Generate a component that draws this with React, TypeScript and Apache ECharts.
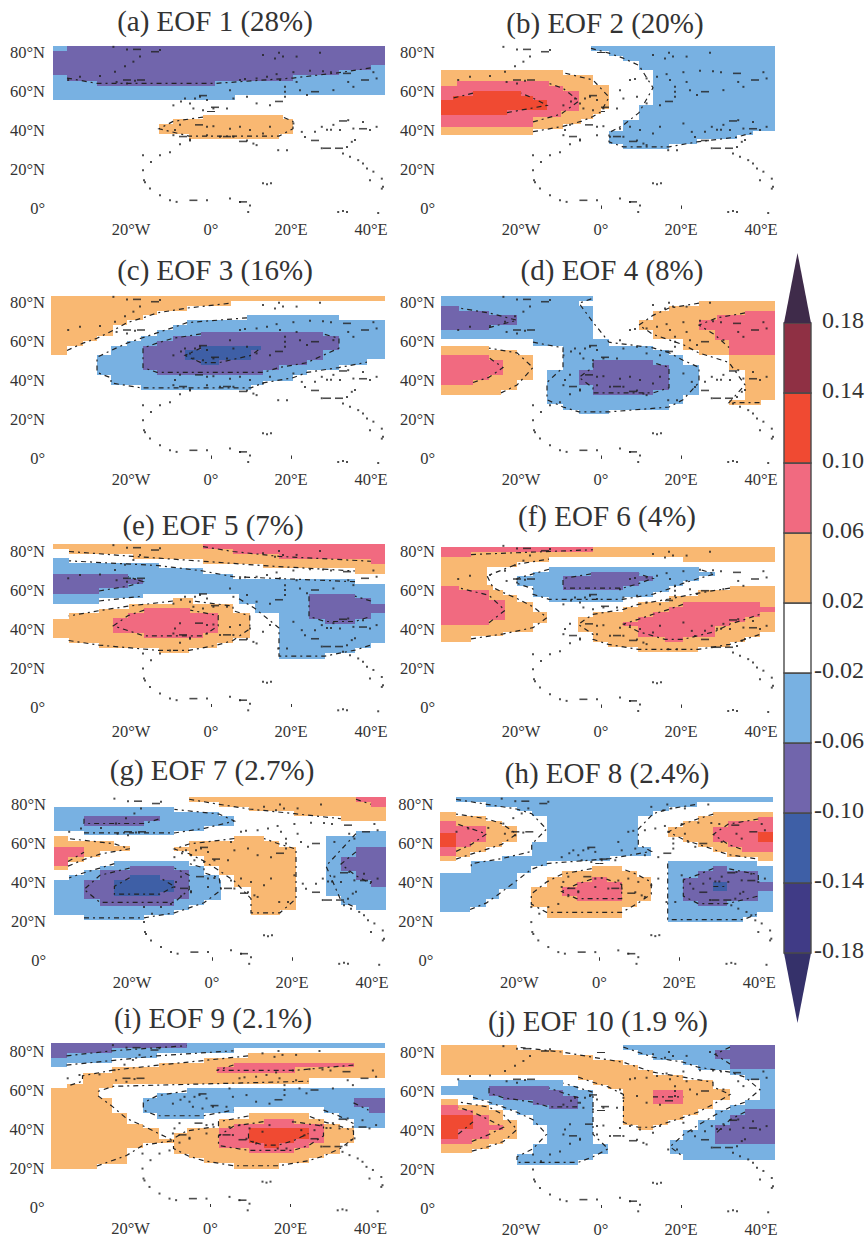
import React, { useEffect, useRef } from "react";
import * as echarts from "echarts";

type Row = number[];
type Region = [number, Row[]];

const O = 1, P = 2, R = 3, B = -1, U = -2, D = -3;
const LEVEL_COLORS: Record<string, string> = {
  "1": "#F9B872", "2": "#F16A80", "3": "#F04A32",
  "-1": "#78B1E2", "-2": "#7165AC", "-3": "#3E5FA6",
};

const TITLES = ["(a) EOF 1 (28%)", "(b) EOF 2 (20%)", "(c) EOF 3 (16%)", "(d) EOF 4 (8%)", "(e) EOF 5 (7%)", "(f) EOF 6 (4%)", "(g) EOF 7 (2.7%)", "(h) EOF 8 (2.4%)", "(i) EOF 9 (2.1%)", "(j) EOF 10 (1.9 %)"];
const LON_LABELS = [-20, 0, 20, 40];
const LAT_LABELS = [0, 20, 40, 60, 80];
const LON_TICKS = [0, 20];
const LAT_TICKS = [50, 80];

const EOF1: Region[] = [
  [B, [[83.5, -39.5, 43.5], [58.5, -39.5, 6], [56]]],
  [U, [[83.5, -36, 43.5], [81, -39.5, 43.5], [73.5, -39.5, 40], [71, -39.5, 32], [68.5, -36, 20.5], [65.5, -28.5, 1], [63]]],
  [O, [[48, -2, 18], [46, -9.5, 20.5], [43.5, -13, 20.5], [38.5, -5.5, 17], [36]]],
];
const EOF2: Region[] = [
  [O, [[71, -40, -9.5], [68.5, -40, -2], [63.5, -40, 2], [51, -40, 0], [48.5, -40, -2], [46, -40, -5], [43.5, -40, -9.5], [41, -40, -17], [38]]],
  [P, [[65.5, -36, -13], [63, -40, -9.5], [60.5, -40, -5.5], [50, -40, -10], [47, -40, -17], [42]]],
  [R, [[60.5, -32, -20], [58, -37, -17], [55.5, -40, -13.5], [50.5, -40, -23.5], [48]]],
  [B, [[83.5, -2.5, 43.5], [81, 2, 43.5], [78.5, 5.5, 43.5], [76, 9.5, 43.5], [71, 13, 43.5], [53, 9.5, 43.5], [45.5, 5.5, 43.5], [40, 2, 38], [38, 2, 34], [35.5, 2, 24], [33, 5.5, 17], [30.5]]],
];
const EOF3: Region[] = [
  [O, [[83.5, -40, 43.5], [81, -40, 5], [78.5, -40, -6], [76, -40, -13.5], [73.5, -40, -17], [71, -40, -21], [68.5, -40, -24.5], [63, -40, -28.5], [60.5, -40, -32], [58, -40, -36], [53]]],
  [B, [[73.5, 9, 32], [71, -6, 43.5], [68.5, -9.5, 43.5], [66, -13.5, 43.5], [63, -17.5, 43.5], [60.5, -21, 43.5], [58, -25, 43.5], [53, -28.5, 43.5], [51, -28.5, 39], [48, -28.5, 32], [45.5, -28.5, 24], [43, -25, 20.5], [40, -25, 13], [37.7, -17.5, 10], [35]]],
  [U, [[65, -2.5, 28], [63, -9.5, 32], [60.5, -13.5, 32], [58, -17, 32], [55.5, -17, 28], [50.5, -17, 24], [48, -17, 17], [45.5, -13.5, 13], [43]]],
  [D, [[58, -2.5, 12.5], [55.5, -6.5, 10], [50.5, -2.5, 2], [48]]],
];
const EOF4: Region[] = [
  [B, [[83.5, -40, -2], [81, -40, -5.5], [78.5, -40, -2], [61.5, -17, 2], [58, -9.5, 13], [55.7, -9.5, 17], [53, -9.5, 20.5], [48, -9.5, 24.5], [45.7, -13.5, 24.5], [32.5, -13.5, 20.5], [28, -9.5, 17], [25, -5.5, 2], [23]]],
  [U, [[78.5, -40, -35.5], [76, -40, -28], [73.5, -40, -21], [68.5, -40, -28], [66]]],
  [U, [[50.5, -2, 13], [48, -2, 17], [45.7, -5.5, 17], [37.7, -2, 17], [35, -2, 13], [32.5]]],
  [O, [[58, -40, -28], [55.5, -40, -21], [53, -40, -17], [40.5, -40, -21], [35, -40, -25], [32.5]]],
  [P, [[53, -40, -28], [50.5, -40, -24.5], [43, -40, -28], [40.5, -40, -32], [37.7]]],
  [O, [[81, 24.5, 43.5], [78.5, 17, 43.5], [76, 13, 43.5], [71, 9.5, 43.5], [66, 13, 43.5], [61.5, 20.5, 43.5], [55.5, 24.5, 43.5], [53, 32, 43.5], [45.7, 36, 43.5], [30, 32, 40], [27.5]]],
  [P, [[76, 36, 43.5], [73.5, 29, 43.5], [71, 24.5, 43.5], [66, 28.5, 43.5], [61, 32, 43.5], [53]]],
];
const EOF5: Region[] = [
  [O, [[83.5, -39.6, 43.5], [81, -35.5, 43.5], [78.5, -19.5, 43.5], [76, -2, 43.5], [73.5, 13, 43.5], [71.5, 36, 43.5], [68]]],
  [P, [[83.5, -2, 43.5], [81, 5.5, 43.5], [78.5, 17, 43.5], [76, 40, 43.5], [73.5]]],
  [B, [[76.2, -39.6, -35.5], [73.7, -39.6, -13], [71.3, -39.6, -2], [68.2, -39.6, 5.5], [65.5, -39.6, 36], [63, -39.6, 43.5], [58, -39.6, -17], [55.7, -39.6, -28], [53]]],
  [B, [[58, 7, 43.5], [53, 11, 43.5], [48, 17, 43.5], [33, 17, 40], [30.5, 17, 36], [27.8, 17, 28.5], [24.4]]],
  [U, [[68.2, -39.6, -20.7], [65.5, -39.6, -17], [63, -39.6, -20.7], [61, -39.6, -28], [58]]],
  [U, [[58, 24.5, 36], [55.7, 24.5, 40], [53, 24.5, 43.5], [48, 24.5, 40], [45, 28.5, 36], [42.7]]],
  [O, [[55.7, -9.5, -4.5], [53, -20.5, 5.5], [50.5, -28, 5.5], [48.3, -35.6, 9.7], [45, -39.6, 9.7], [35.2, -35.6, 5.5], [33, -28, 1.5], [30.5, -13, -5.5], [27.5]]],
  [P, [[51, -16.7, -5.2], [48.3, -20.7, 1.8], [45.5, -24.4, 1.8], [37.7, -16.7, -2], [35.2]]],
];
const EOF6: Region[] = [
  [O, [[82.2, -40, 43.5], [77.5, 20.5, 43.5], [74.9]]],
  [O, [[77.5, -40, -13], [74.9, -40, -21], [72.3, -40, -28.5], [62.9, -40, -27], [60.3, -40, -24.4], [57.7, -40, -21], [54.3, -40, -17], [49.2, -40, -13.5], [43.2, -40, -17], [38.9, -40, -24.4], [36.8, -40, -32.5], [33.8]]],
  [P, [[82.2, -40, -2], [79.8, -40, -32.5], [77.3]]],
  [P, [[62.5, -40, -35.5], [60.3, -40, -28], [55, -40, -24], [44.9, -40, -28], [42.3]]],
  [B, [[72.3, -13, 24.5], [69.7, -17, 28.4], [67.5, -21, 24.5], [65.1, -21, 20.5], [62.4, -17, 17], [59.5, -17, 13], [56.9, -13, 5.5], [54.3]]],
  [U, [[69.7, -2.5, 9.5], [67.5, -9.5, 13], [65.1, -9.5, 9.5], [62.4, -9.5, 5.5], [60.3]]],
  [O, [[62.4, 32.25, 43.5], [60.3, 24.3, 43.5], [57.2, 17, 43.5], [54.3, 9.3, 43.5], [51.7, 5.6, 43.5], [49.2, -2, 43.5], [46.6, -5.7, 43.5], [38.9, -2, 39.75], [36.3, -2, 36], [33.8, 1.8, 32.25], [31.2, 9.3, 24.3], [28.6]]],
  [P, [[54.3, 20.5, 39.75], [51.7, 17, 43.5], [49.2, 13, 39.75], [46.6, 9.3, 36], [44, 5.6, 32.25], [41.8, 9.3, 28.5], [36.3, 16, 20.5], [33.8]]],
];
const EOF7: Region[] = [
  [B, [[78.8, -39.6, -9.4], [76.2, -39.6, 1.8], [74, -39.6, 5.6], [69, -39.6, -1.9], [66.6, -32, -9.4], [64.2]]],
  [U, [[74, -32, -13], [71.5, -32, -17], [69]]],
  [O, [[84, -5.7, 43.5], [81.4, 1.8, 43.5], [78.8, 9.3, 43.5], [76.6, 20.6, 43.5], [74, 32.25, 43.5], [71.4]]],
  [P, [[84, 36, 43.5], [81.4, 39.75, 43.5], [78.8]]],
  [O, [[63.9, -39.6, -36], [61.2, -39.6, -24.5], [58.6, -39.6, -20.6], [56, -39.6, -28], [53.1, -39.6, -32], [50.5, -39.6, -36], [46.3]]],
  [P, [[58, -39.6, -32], [53.1, -39.6, -36], [48.5]]],
  [B, [[50.9, -24.4, -5.7], [48.5, -28, -2], [46.3, -32, -2], [43.7, -35.7, 1.8], [41.1, -39.6, 2.2], [30.9, -39.6, -2], [28.3, -39.6, -5.7], [25.7, -39.6, -9.4], [23.2, -32, -17], [20.6]]],
  [U, [[48.5, -20.6, -9.4], [46.3, -28, -5.7], [41.1, -32, -5.7], [31.7, -28, -9.4], [28]]],
  [D, [[43.7, -20.6, -13], [41.1, -24.4, -9.4], [35, -24.4, -13], [33]]],
  [O, [[63.9, 5.6, 13], [61.2, -5.7, 16.8], [58.3, -9.4, 21], [56, -5.7, 21], [53.5, -2, 21], [48.5, 1.8, 21], [43.7, 5.6, 21], [37.7, 9.75, 21], [25.7, 9.75, 17], [23.2]]],
  [B, [[66.3, 36, 43.5], [63.9, 28.5, 43.5], [33, 32.25, 43.5], [28.3, 36, 43.5], [25.7]]],
  [U, [[58.3, 36, 43.5], [53.1, 32.25, 43.5], [45.8, 36, 43.5], [41.1, 39.75, 43.5], [37.7]]],
];
const EOF8: Region[] = [
  [B, [[83.9, -35.8, 43.5], [81.4, -28.2, 24.3], [78.8, -20.7, 17.3], [76.6, -16.9, 13.5], [74, -13.2, 9.75], [60.8, -16.9, 9.75], [58.3, -16.9, 13], [53.6, -24.4, 2.7], [50.9, -32, -13.2], [48.5, -32, -17], [45, -39.7, -20.7], [36.8, -39.7, -25], [31.7, -39.7, -28.2], [27.4, -39.7, -32.3], [24.9]]],
  [O, [[76.2, -39.7, -35.8], [74, -39.7, -28.2], [71.4, -39.7, -24.4], [69, -39.7, -20.7], [60.8, -39.7, -24.4], [58.3, -39.7, -28.2], [55.7, -39.7, -32.3], [53.1, -39.7, -35.8], [50.9]]],
  [P, [[71.4, -39.7, -35.8], [69, -39.7, -28.2], [60.8, -39.7, -32], [58.3, -39.7, -35.8], [53.6]]],
  [R, [[65.6, -39.7, -35.8], [58.3]]],
  [O, [[48.5, -1.9, 5.6], [45.8, -9.4, 9.3], [42.7, -13.2, 13], [37.7, -17, 13], [30.5, -17, 9.3], [27.4, -13.2, 5.6], [22]]],
  [P, [[43, -1.9, 1.8], [40.4, -5.7, 5.6], [37.7, -9.4, 5.6], [33, -5.7, 5.6], [30.5]]],
  [O, [[76.2, 28.5, 43.5], [74, 24.75, 43.5], [71.4, 21, 43.5], [68.5, 17.25, 43.5], [63.4, 21, 43.5], [60.8, 24.75, 43.5], [58.3, 28.5, 43.5], [55.7, 32, 43.5], [53.1, 39.75, 43.5], [50.9]]],
  [P, [[73.7, 39.75, 43.5], [71.4, 32.25, 43.5], [68.5, 28.5, 43.5], [60.8, 32.25, 43.5], [58.3, 35.6, 43.5], [55.7]]],
  [R, [[66, 39.75, 43.5], [60.8]]],
  [B, [[50.9, 17.1, 39.5], [48.5, 17.1, 43.5], [24.9, 17.1, 39.3], [22.3, 17.1, 36], [19.7]]],
  [U, [[48.5, 28.5, 32], [45.8, 24.75, 39.75], [42.3, 21, 39.75], [40.3, 21, 43.5], [35.6, 21, 39.75], [30.5, 24.75, 32], [27.8]]],
  [D, [[40.3, 28.5, 32], [35.6]]],
];
const EOF9: Region[] = [
  [B, [[84, -39.8, 43.5], [81.4, -39.8, 5.75], [78.8, -39.8, -13.4], [76.2, -39.8, -24.7], [74, -39.8, -36], [71.6]]],
  [U, [[84, -39.8, -6], [81.4, -39.8, -24.7], [78.8, -39.8, -36], [76.2]]],
  [O, [[78.8, 9.4, 43.5], [76.2, -1.75, 43.5], [74, -13, 43.5], [71.6, -24.7, 43.5], [68.5, -32, 43.5], [66, -32, 24.5], [63, -36, -24.3], [60.8, -39.8, -28], [57.9, -39.8, -28], [55.7, -39.8, -24.7], [48, -39.8, -21], [42.8, -39.8, -16.8], [40.3, -39.8, -13], [35.1, -39.8, -9.25], [33, -39.8, -16.8], [30.5, -39.8, -21], [22.3, -39.8, -28.4], [19.7]]],
  [O, [[48.3, 9.5, 24.5], [45, 2, 28.25], [42.5, 2, 32.4], [40.3, -6, 35.75], [37.7, -9.25, 35.75], [32.6, -9.25, 32.4], [27.4, -5.5, 28.25], [24.9, -1.75, 24.5], [22.6, 5.75, 17], [19.7]]],
  [P, [[74, 5.75, 35.75], [71.6, 1.5, 21], [68.5]]],
  [B, [[60.8, -6, 43.5], [58.3, -13.4, 43.5], [55.7, -16.8, 43.5], [51.1, -16.8, 5.75], [48.3, -13.4, -1.75], [45.3]]],
  [B, [[51.1, 28.25, 43.5], [48.3, 32, 43.5], [45.3, 35.75, 43.5], [40.3]]],
  [U, [[55.7, 35.75, 43.5], [51.1, 39.5, 43.5], [48.3]]],
  [P, [[45, 13.25, 20.75], [42.5, 5.75, 28.25], [40.3, 2, 28.25], [32.6, 2, 24.5], [30.5, 9.5, 20.75], [27.6]]],
  [R, [[40.3, 9.5, 24.5], [35.1, 9.5, 20.75], [33, 13.25, 17], [30.5]]],
];
const EOF10: Region[] = [
  [O, [[83.8, -40, -21], [81.2, -40, -9.4], [78.6, -40, -2], [76, -40, 5.6], [73.5, -40, 9.3], [70.9, -40, 13], [68.4, -5.7, 20.6], [65.8, -2, 28], [63.2, 1.8, 28], [61, 5.6, 32.25], [55.5, 5.6, 28], [50.7, 5.6, 24.3], [47.8, 5.6, 20.6], [45.2, 5.6, 16.8], [42.7, 9.3, 13], [40.1]]],
  [P, [[60.7, 13, 20.6], [53.3]]],
  [B, [[65.4, -35.7, -9.4], [62.7, -40, -5.7], [60.7, -40, -2], [58, -32, -2], [55.5, -28, -2], [53, -24.4, -2], [50.4, -21, -2], [47.8, -17, -2], [42.7, -13.6, -2], [32.9, -17, 1.8], [27.8, -21, -2], [24.7, -21, -5.7], [22.1]]],
  [U, [[62.7, -28, -13], [60.4, -28, -9.4], [57.6, -24.4, -5.7], [55.5, -17, -5.7], [53, -13, -5.7], [50.7]]],
  [O, [[55.9, -40, -35.7], [53, -40, -28], [50.4, -40, -24.4], [45.2, -40, -21], [35.3, -40, -24.4], [32.9, -40, -28], [30.2, -40, -32.3], [28.1]]],
  [P, [[53, -40, -35.7], [50.4, -40, -32], [47.8, -40, -28], [42.7, -40, -24.4], [40.1, -40, -28], [35.3, -40, -32.3], [32.9]]],
  [R, [[47.8, -40, -32], [40.5, -40, -35.7], [35.3]]],
  [B, [[83.8, 5.6, 43.5], [81.2, 9.3, 43.5], [78.6, 13, 43.5], [76, 20.6, 43.5], [73.5, 24.3, 43.5], [70.9, 32.25, 43.5], [68.4, 36, 43.5], [65.8, 39.75, 43.5], [55.5, 36, 43.5], [53, 32.25, 43.5], [50.4, 28.5, 43.5], [44.9, 24.3, 43.5], [40.1, 20.6, 43.5], [35, 17.25, 43.5], [27.8, 20.6, 43.5], [24.7]]],
  [U, [[83.8, 32.25, 43.5], [81.2, 28.5, 43.5], [76.4, 32.25, 43.5], [71.3]]],
  [U, [[50.7, 36, 43.5], [47.8, 32.25, 43.5], [42.7, 28.5, 43.5], [32.9]]],
];
const EOFS = [EOF1, EOF2, EOF3, EOF4, EOF5, EOF6, EOF7, EOF8, EOF9, EOF10];

const COAST = [
  [-17, 27.4], [-15, 24], [-12.75, 27.4], [-10.25, 29], [-7.75, 33], [-5.25, 35], [-17, 19.7], [-16.75, 14.6], [-16.5, 13.6], [-15.25, 10.3], [-12.75, 6.9], [-10.25, 4.3], [-8.6, 3.5], [-1, 4.3], [4.75, 5.2], [7.25, 3.5], [9.75, 1.7], [9.3, -1.7], [31.8, -1.7], [33, -1.2], [34, -1.7], [41.8, -2.2], [42.7, 10.3],
  [33, 28.3], [34.75, 26.6], [36.8, 24.9], [38, 23.2], [39, 20.6], [40.6, 19], [42.7, 15.4], [39.75, 14.6], [43, 11.2], [13, 13], [14, 12.5], [15, 13],
  [-1, 37.7], [2.25, 36.9], [5.6, 36.9], [9, 35], [10.6, 33.4], [11.4, 32.6], [16.8, 30], [19, 30], [27.7, 31], [34, 31.7], [35.2, 34.3], [36, 35.2],
  [0.6, 42.3], [4.75, 41], [7.25, 42], [9.75, 40.3], [13, 38.6], [14.75, 42], [20.6, 43.7], [22.7, 39.4], [23.5, 36.8], [26, 39.4], [27.7, 42], [30.6, 43], [34.3, 45.4], [38, 44.5], [41.4, 42], [35.6, 41.1], [32.25, 40.3], [39.75, 40.3], [29, 40.5], [30, 40.5],
  [-9.4, 37.7], [-9, 40.3], [-7.75, 43], [-1, 42], [-5.25, 35.5], [-9.4, 53], [-4.4, 51.4], [-2, 50.5], [0.6, 51.4], [-1, 55.7], [-4, 56.5], [-6.5, 56.5], [-5.25, 54], [-2.75, 57.4], [-7.5, 55], [4, 51.4], [5.6, 56.5], [9, 57.4], [11.4, 54], [14.75, 53],
  [4.75, 60.8], [7.25, 66], [8.5, 66.5], [11.4, 66.8], [14, 67.7], [17.25, 66], [18.5, 62.5], [18.5, 60], [18.5, 57.4], [21.4, 65], [22.25, 60.8], [24, 58.3], [30.6, 60.8], [34.3, 65], [35.6, 62.5], [41.4, 66.8], [40.6, 70], [30, 70], [28, 70.5], [24.75, 70.7], [20.6, 70], [16.4, 69],
  [13, 78.8], [16, 77], [17, 80], [18, 78], [21.4, 78], [27.25, 80], [-24.4, 83], [-21, 81.7], [-12.75, 81.4], [-17.75, 78], [-19.4, 75.4], [-21.5, 73], [-24, 70.2], [-27.75, 68], [-32.75, 67.7], [-35.7, 66], [-23.6, 65], [-21, 64.2], [-19, 65.6],
];
const COAST_DASHES = [
  [-18.5, 81.7], [-14, 80.5], [-21, 66], [-17.5, 66], [34, 69.4], [38.5, 66], [32, 31], [26, 35], [29, 31], [26, 60], [17, 55], [-3, 43], [4, 37], [-4.4, 4.3], [8, 3.5], [-2, 58], [1, 52], [-7, 37], [8, 34.5], [33, 45], [38, 41],
];

const COLOR_EDGES = [-0.22, -0.18, -0.14, -0.10, -0.06, -0.02, 0.02, 0.06, 0.10, 0.14, 0.18, 0.22];
const BIN_COLORS = ["#35316A", "#403B86", "#3E5FA6", "#7165AC", "#78B1E2", "#FFFFFF", "#F9B872", "#F16A80", "#F04A32", "#8F3044", "#3F2B4A"];
const COLOR_LABELS = [-0.18, -0.14, -0.10, -0.06, -0.02, 0.02, 0.06, 0.10, 0.14, 0.18];
const COLOR_NEG_TICKS = [-0.18, -0.14, -0.10, -0.06, -0.02];

// layout: x of 0°, y of 80°N, title centre, label margin, axis tick switches
const LAYOUT = [
  { x0: 211, y80: 52.7, tx: 215, ty: 23, m: 3, xt: false, yt: true },
  { x0: 601, y80: 52.7, tx: 605, ty: 25, m: 3, xt: true, yt: true },
  { x0: 211, y80: 302.7, tx: 215, ty: 272, m: 3, xt: true, yt: true },
  { x0: 601, y80: 302.7, tx: 612, ty: 272, m: 3, xt: true, yt: false },
  { x0: 211, y80: 551, tx: 213, ty: 527, m: 6, xt: true, yt: true },
  { x0: 601, y80: 551.7, tx: 607, ty: 518, m: 6, xt: true, yt: false },
  { x0: 212, y80: 804.5, tx: 212, ty: 772, m: 4, xt: true, yt: false },
  { x0: 599.3, y80: 804.5, tx: 607, ty: 775, m: 4, xt: true, yt: true },
  { x0: 210.5, y80: 1051, tx: 213, ty: 1020, m: 3, xt: true, yt: true },
  { x0: 601, y80: 1052, tx: 598, ty: 1023, m: 3, xt: true, yt: true },
];

const SERIF = "Liberation Serif";
const INK = "#333333";

function rowsOf(regions: Region[]) {
  const out: number[][] = [];
  regions.forEach(([lvl, rows]) => {
    for (let i = 0; i < rows.length - 1; i++) out.push([lvl, rows[i][0], rows[i + 1][0], rows[i][1], rows[i][2]]);
  });
  return out;
}

// Dashed contour paths that follow the free edges of each region
function contoursOf(regions: Region[]) {
  const paths: number[][][] = [];
  regions.forEach(([, rows]) => {
    const loop: (number[] | null)[] = [];
    const spans = rows.slice(0, -1).map((r, i) => ({ mid: (r[0] + rows[i + 1][0]) / 2, l: r[1], r: r[2] }));
    spans.forEach((s) => loop.push(s.l > -39 ? [s.l, s.mid] : null));
    for (let i = spans.length - 1; i >= 0; i--) loop.push(spans[i].r < 43 ? [spans[i].r, spans[i].mid] : null);
    let cur: number[][] = [];
    loop.forEach((p) => {
      if (p) cur.push(p);
      else { if (cur.length > 1) paths.push(cur); cur = []; }
    });
    if (cur.length > 1) paths.push(cur);
  });
  return paths;
}

const lonFmt = (v: number) => (v === 0 ? "0°" : v < 0 ? `${-v}°W` : `${v}°E`);
const latFmt = (v: number) => (v === 0 ? "0°" : `${v}°N`);

function buildOption() {
  const grid: any[] = [], xAxis: any[] = [], yAxis: any[] = [], series: any[] = [], title: any[] = [];
  const tick = { lineStyle: { color: "#333", width: 1 } };
  LAYOUT.forEach((L, i) => {
    const gi = grid.length;
    grid.push({ left: L.x0 - 160, top: L.y80 - 7.8, width: 336, height: 173.55 });
    title.push({ text: TITLES[i], left: L.tx, top: L.ty - 2, padding: 0, textAlign: "center", textVerticalAlign: "middle", textStyle: { fontFamily: SERIF, fontSize: 29, fontWeight: "normal", color: INK } });
    const xBase = { type: "value", min: -40, max: 44, gridIndex: gi, splitLine: { show: false }, axisLine: { show: false } };
    const yBase = { type: "value", min: -5, max: 84, gridIndex: gi, splitLine: { show: false }, axisLine: { show: false } };
    const xi = xAxis.length, yi = yAxis.length;
    xAxis.push({ ...xBase, position: "bottom", axisTick: { show: L.xt, inside: true, length: 3, customValues: LON_TICKS, ...tick },
      axisLabel: { customValues: LON_LABELS, formatter: lonFmt, margin: L.m, fontFamily: SERIF, fontSize: 16.5, color: INK } });
    xAxis.push({ ...xBase, position: "top", axisTick: { show: L.xt, inside: false, length: 3, customValues: LON_TICKS, ...tick }, axisLabel: { show: false } });
    yAxis.push({ ...yBase, position: "left", axisTick: { show: L.yt, length: 4, customValues: LAT_TICKS, ...tick },
      axisLabel: { customValues: LAT_LABELS, formatter: latFmt, margin: 6, fontFamily: SERIF, fontSize: 16.5, color: INK } });
    yAxis.push({ ...yBase, position: "right", axisTick: { show: L.yt, length: 4, customValues: LAT_TICKS, ...tick }, axisLabel: { show: false } });
    const onAxes = { xAxisIndex: xi, yAxisIndex: yi };
    series.push({
      type: "custom", ...onAxes, silent: true, z: 2, clip: false,
      data: rowsOf(EOFS[i]),
      renderItem: (_: any, api: any) => {
        const a = api.coord([api.value(3), api.value(1)]);
        const b = api.coord([api.value(4), api.value(2)]);
        const x = Math.round(a[0]), y = Math.round(a[1]);
        return { type: "rect", shape: { x, y, width: Math.round(b[0]) - x, height: Math.round(b[1]) - y },
          style: { fill: LEVEL_COLORS[String(api.value(0))], stroke: null } };
      },
    });
    const paths = contoursOf(EOFS[i]);
    series.push({
      type: "custom", ...onAxes, silent: true, z: 3, clip: false,
      data: paths.map((_, k) => [k]),
      renderItem: (params: any, api: any) => ({
        type: "polyline",
        shape: { points: paths[params.dataIndex].map((p) => api.coord(p)) },
        style: { fill: null, stroke: "#222", lineWidth: 1.2, lineDash: [5, 4, 2, 4] },
      }),
    });
    series.push({ type: "scatter", ...onAxes, silent: true, z: 4, data: COAST, symbol: "rect", symbolSize: 2, itemStyle: { color: "#222" } });
    series.push({ type: "scatter", ...onAxes, silent: true, z: 4, data: COAST_DASHES, symbol: "rect", symbolSize: [8, 1.6], itemStyle: { color: "#222" } });
  });

  const gi = grid.length;
  grid.push({ left: 784, top: 253, width: 27, height: 770 });
  xAxis.push({ type: "value", min: 0, max: 1, gridIndex: gi, show: false });
  const cyi = yAxis.length;
  yAxis.push({
    type: "value", min: -0.22, max: 0.22, gridIndex: gi, position: "right",
    splitLine: { show: false }, axisLine: { show: false },
    axisTick: { show: true, length: 4, customValues: COLOR_NEG_TICKS, lineStyle: { color: "#333", width: 1.3 } },
    axisLabel: { customValues: COLOR_LABELS, formatter: (v: number) => v.toFixed(2), align: "right", verticalAlign: "bottom", lineHeight: 6, margin: 53, fontFamily: SERIF, fontSize: 24, color: INK },
  });
  const bins = BIN_COLORS.map((_, k) => [COLOR_EDGES[k], COLOR_EDGES[k + 1], k]);
  series.push({
    type: "custom", xAxisIndex: xAxis.length - 1, yAxisIndex: cyi, silent: true, z: 2, clip: false, data: bins,
    renderItem: (_: any, api: any) => {
      const k = api.value(2);
      const lo = api.value(0), hi = api.value(1);
      const stroke = { stroke: "#4a4a4a", lineWidth: 1.4 };
      if (k === 0) return { type: "polygon", shape: { points: [api.coord([0, hi]), api.coord([1, hi]), api.coord([0.5, lo])] }, style: { fill: BIN_COLORS[k], stroke: null } };
      if (k === BIN_COLORS.length - 1) return { type: "polygon", shape: { points: [api.coord([0, lo]), api.coord([1, lo]), api.coord([0.5, hi])] }, style: { fill: BIN_COLORS[k], stroke: null } };
      const a = api.coord([0, hi]), b = api.coord([1, lo]);
      return { type: "rect", shape: { x: a[0], y: a[1], width: b[0] - a[0], height: b[1] - a[1] }, style: { fill: BIN_COLORS[k], ...stroke } };
    },
  });

  return { animation: false, backgroundColor: "#fff", title, grid, xAxis, yAxis, series };
}

export default function App() {
  const ref = useRef<HTMLDivElement>(null);
  useEffect(() => {
    document.body.style.margin = "0";
    const chart = echarts.init(ref.current!, undefined, { renderer: "svg" });
    chart.setOption(buildOption() as any);
    return () => chart.dispose();
  }, []);
  return <div ref={ref} style={{ width: 868, height: 1238 }} />;
}
